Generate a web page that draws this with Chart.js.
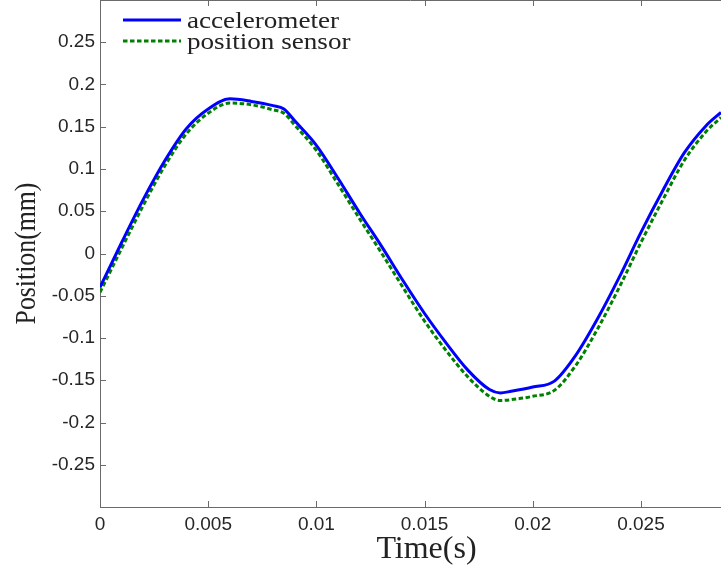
<!DOCTYPE html>
<html><head><meta charset="utf-8">
<script src="https://cdn.jsdelivr.net/npm/chart.js@4/dist/chart.umd.min.js"></script>
<style>html,body{margin:0;padding:0;background:#fff;}#wrap{width:721px;height:573px;}</style>
</head><body><div id="wrap"><canvas id="c" width="721" height="573"></canvas></div>
<script>
const time = [0,0.001,0.002,0.003,0.004,0.005,0.006,0.007,0.008,0.0085,0.009,0.010,0.011,0.012,0.013,0.014,0.015,0.016,0.017,0.018,0.0185,0.019,0.020,0.021,0.022,0.023,0.024,0.025,0.026,0.027,0.028,0.0287];
const accelerometer = [-0.040,0.013,0.064,0.110,0.148,0.171,0.183,0.180,0.175,0.171,0.157,0.128,0.089,0.048,0.009,-0.032,-0.071,-0.106,-0.138,-0.161,-0.165,-0.163,-0.158,-0.151,-0.120,-0.077,-0.028,0.025,0.074,0.119,0.151,0.167];
const positionSensor = [-0.046,0.006,0.057,0.104,0.142,0.166,0.178,0.176,0.170,0.166,0.152,0.122,0.082,0.041,0.001,-0.040,-0.080,-0.115,-0.146,-0.169,-0.174,-0.173,-0.169,-0.162,-0.132,-0.089,-0.040,0.013,0.063,0.110,0.144,0.161];
const xTicks = [0,0.005,0.01,0.015,0.02,0.025];
const yTicks = [-0.25,-0.2,-0.15,-0.1,-0.05,0,0.05,0.1,0.15,0.2,0.25];
const seriesLabels = ['accelerometer','position sensor'];
const xTitle = 'Time(s)';
const yTitle = 'Position(mm)';

const toPts = (xs, ys) => xs.map((x,i)=>({x:x,y:ys[i]}));
const axisColor = '#6a6a6a';
const tickFont = {family:'"Liberation Sans", Arial, sans-serif', size:19};
const serif = '"Liberation Serif", "DejaVu Serif", serif';

const frame = {
  id:'frame',
  afterDraw(chart){
    const {ctx, chartArea:a, scales} = chart;
    ctx.save();
    ctx.strokeStyle = axisColor; ctx.lineWidth = 1;
    ctx.beginPath(); ctx.moveTo(a.left, a.top+0.5); ctx.lineTo(a.right, a.top+0.5); ctx.stroke();
    const L = 6;
    scales.x.ticks.forEach(t=>{
      const px = Math.round(scales.x.getPixelForValue(t.value))+0.5;
      ctx.beginPath(); ctx.moveTo(px,a.bottom); ctx.lineTo(px,a.bottom-L);
      ctx.moveTo(px,a.top); ctx.lineTo(px,a.top+L); ctx.stroke();
    });
    scales.y.ticks.forEach(t=>{
      const py = Math.round(scales.y.getPixelForValue(t.value))+0.5;
      ctx.beginPath(); ctx.moveTo(a.left,py); ctx.lineTo(a.left+L,py); ctx.stroke();
    });
    // axis titles
    ctx.fillStyle = '#222';
    ctx.font = '32px ' + serif;
    ctx.textAlign = 'center'; ctx.textBaseline = 'alphabetic';
    ctx.fillText(xTitle, (a.left+a.right)/2 + 16, 558);
    ctx.save();
    ctx.translate(35, (a.top+a.bottom)/2);
    ctx.rotate(-Math.PI/2);
    ctx.scale(0.86, 1);
    ctx.font = '30px ' + serif;
    ctx.fillText(yTitle, 0, 0);
    ctx.restore();
    // legend
    const ds = chart.data.datasets;
    const lx = a.left+23, lw = 58;
    ds.forEach((d,i)=>{
      const y = a.top + 20 + i*21;
      ctx.save();
      ctx.strokeStyle = d.borderColor; ctx.lineWidth = d.borderWidth;
      ctx.setLineDash(d.borderDash || []);
      ctx.beginPath(); ctx.moveTo(lx,y); ctx.lineTo(lx+lw,y); ctx.stroke();
      ctx.restore();
      ctx.save();
      ctx.fillStyle = '#222';
      ctx.font = '24px ' + serif;
      ctx.textAlign = 'left'; ctx.textBaseline = 'alphabetic';
      ctx.translate(lx+lw+6, y+7.5);
      ctx.scale(1.13, 1);
      ctx.fillText(d.label, 0, 0);
      ctx.restore();
    });
    ctx.restore();
  }
};

new Chart(document.getElementById('c'), {
  type:'line',
  data:{datasets:[
    {label:seriesLabels[0], data:toPts(time,accelerometer), borderColor:'#0000ff', borderWidth:3, pointRadius:0, tension:0.4, cubicInterpolationMode:'monotone', fill:false},
    {label:seriesLabels[1], data:toPts(time,positionSensor), borderColor:'#008000', borderWidth:3, borderDash:[4.5,2.5], pointRadius:0, tension:0.4, cubicInterpolationMode:'monotone', fill:false}
  ]},
  options:{
    responsive:false, animation:false, maintainAspectRatio:false,
    layout:{padding:0},
    plugins:{legend:{display:false}, tooltip:{enabled:false}},
    scales:{
      x:{type:'linear', min:0, max:0.0287,
        afterBuildTicks(s){ s.ticks = xTicks.map(v=>({value:v})); },
        afterFit(s){ s.height = 66; s.paddingLeft = 0; s.paddingRight = 0; },
        grid:{display:false, drawTicks:false},
        border:{display:true, color:axisColor, width:1},
        ticks:{color:'#262626', font:tickFont, padding:6, maxRotation:0, autoSkip:false, callback:(v)=>String(v)},
        title:{display:false}
      },
      y:{type:'linear', min:-0.3, max:0.3,
        afterBuildTicks(s){ s.ticks = yTicks.map(v=>({value:v})); },
        afterFit(s){ s.width = 100; s.paddingTop = 0; s.paddingBottom = 0; },
        grid:{display:false, drawTicks:false},
        border:{display:true, color:axisColor, width:1},
        ticks:{color:'#262626', font:tickFont, padding:5, autoSkip:false, callback:(v)=>String(v)},
        title:{display:false}
      }
    }
  },
  plugins:[frame]
});
</script></body></html>
